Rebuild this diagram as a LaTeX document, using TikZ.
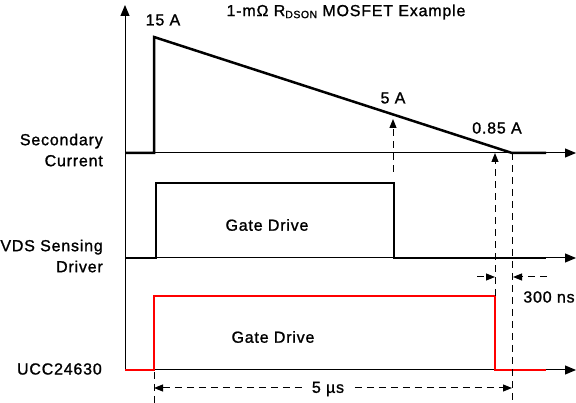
\documentclass[tikz,border=0pt]{standalone}
\usepackage{fontspec}
\setmainfont{Liberation Sans}[LetterSpace=5, FakeBold=1.2]
\usetikzlibrary{arrows.meta}
\begin{document}
\begin{tikzpicture}[x=1pt,y=-1pt,
  lbl/.style={font=\fontsize{16}{21}\selectfont, inner sep=0pt},
  axis/.style={line width=1pt, -{Triangle[length=11pt,width=9pt]}},
  wave/.style={line width=2.5pt, line join=miter},
  redwave/.style={wave, draw=red},
  dim/.style={line width=1pt, dash pattern=on 7pt off 5pt},
  dimarrow/.style={dim, -{Triangle[length=9pt,width=7pt]}}]
\useasboundingbox (0,0) rectangle (576,403);
% axes
\coordinate (o) at (125,370);
\coordinate (ytop) at (125,5);
\coordinate (a1s) at (125,153);
\coordinate (a1e) at (576,153);
\coordinate (a2s) at (125,258);
\coordinate (a2e) at (576,258);
\coordinate (a3e) at (576,370);
\draw[axis] (o) -- (ytop);
\draw[axis] (a1s) -- (a1e);
\draw[axis] (a2s) -- (a2e);
\draw[axis] (o) -- (a3e);
% waveforms
\coordinate (pk) at (154,37);
\coordinate (zc) at (512,153);
\draw[wave] (a1s) -- (154,153) -- (pk) -- (zc) -- (546,153);
\coordinate (vr) at (156,183);
\coordinate (vf) at (394,183);
\draw[wave] (a2s) -- (156,258) -- (vr) -- (vf) -- (394,258) -- (546,258);
\coordinate (ur) at (154,296);
\coordinate (uf) at (495,296);
\draw[redwave] (o) -- (154,370) -- (ur) -- (uf) -- (495,370) -- (546,370);
% dashed markers
\coordinate (m5b) at (393,172);
\coordinate (m5t) at (393,119);
\draw[dimarrow] (m5b) -- (m5t);
\coordinate (m085) at (495,153);
\draw[dimarrow] (uf) -- (m085);
\coordinate (zb) at (512,403);
\draw[dim] (zc) -- (zb);
\coordinate (st) at (154,372);
\coordinate (sb) at (154,403);
\draw[dim] (st) -- (sb);
% 300 ns
\coordinate (n1) at (477,277);
\coordinate (n2) at (495,277);
\coordinate (n3) at (547,277);
\coordinate (n4) at (513,277);
\draw[dimarrow] (n1) -- (n2);
\draw[dimarrow] (n3) -- (n4);
% 5 us
\coordinate (u1) at (154,388);
\coordinate (u2) at (512,388);
\draw[dim, {Triangle[length=9pt,width=7pt]}-{Triangle[length=9pt,width=7pt]}] (u1) -- (u2);
\node[lbl, fill=white, inner xsep=6pt, inner ysep=2pt] (t5us) at (328,389) {5 µs};
% labels
\node[lbl] (title) at (346,12) {1-mΩ R\raisebox{-2pt}{\fontsize{10.5}{10}\selectfont DSON} MOSFET Example};
\node[lbl] (l15) at (163,20) {15 A};
\node[lbl] (l5) at (393,98) {5 A};
\node[lbl] (l085) at (497,128) {0.85 A};
\node[lbl] (g1) at (267,225) {Gate Drive};
\node[lbl] (g2) at (273,337) {Gate Drive};
\node[lbl] (t300) at (549,297) {300 ns};
\node[lbl, anchor=east, align=right] (sc) at (103,150) {Secondary\\Current};
\node[lbl, anchor=east, align=right] (vd) at (103,256) {VDS Sensing\\Driver};
\node[lbl, anchor=east] (ucc) at (102,369) {UCC24630};
\end{tikzpicture}
\end{document}
